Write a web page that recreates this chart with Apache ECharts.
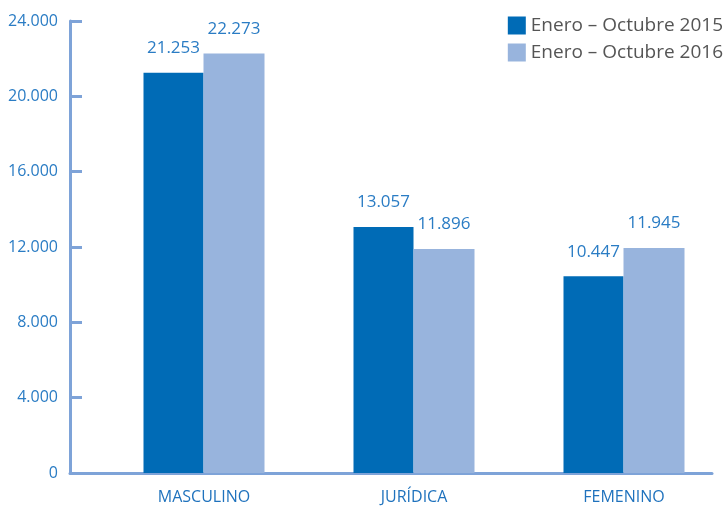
<!DOCTYPE html>
<html><head><meta charset="utf-8">
<script src="https://cdn.jsdelivr.net/npm/echarts@6/dist/echarts.min.js"></script>
<style>html,body{margin:0;padding:0;background:#fff;overflow:hidden}#c{width:729px;height:508px}</style>
</head><body><div id="c"></div>
<script>
const categories = ['MASCULINO', 'JURÍDICA', 'FEMENINO'];
const series2015 = [21253, 13057, 10447];
const series2016 = [22273, 11896, 11945];
const seriesNames = ['Enero – Octubre 2015', 'Enero – Octubre 2016'];
const yMin = 0, yMax = 24000, yStep = 4000;

function fmt(v) { return String(Math.round(v)).replace(/\B(?=(\d{3})+(?!\d))/g, '.'); }

const FONT = '"Open Sans", sans-serif';
const AXIS = '#7ea3d8';
const BLUE_TXT = '#2a7cc4';
const chart = echarts.init(document.getElementById('c'), null, {renderer: 'canvas'});
chart.setOption({
  animation: false,
  textStyle: {fontFamily: FONT},
  legend: {
    orient: 'vertical', right: 1, top: 11, itemWidth: 18, itemHeight: 18, itemGap: 8,
    icon: 'rect',
    textStyle: {color: '#555', fontSize: 19, fontFamily: FONT},
    data: seriesNames
  },
  grid: [
    {left: 99, right: 0, top: 21, bottom: 35},
    {left: 70, right: 17, top: 21, bottom: 35}
  ],
  xAxis: [
    {type: 'category', gridIndex: 0, data: categories,
     axisLine: {show: false}, axisTick: {show: false},
     axisLabel: {color: '#1f72bd', fontSize: 16, margin: 16, fontFamily: FONT}},
    {type: 'value', gridIndex: 1, min: 0, max: 1,
     axisLine: {show: true, lineStyle: {color: AXIS, width: 3}},
     axisTick: {show: false}, axisLabel: {show: false}, splitLine: {show: false}}
  ],
  yAxis: [
    {type: 'value', gridIndex: 0, min: yMin, max: yMax, interval: yStep, show: false},
    {type: 'value', gridIndex: 1, min: yMin, max: yMax, interval: yStep,
     axisLine: {show: true, lineStyle: {color: AXIS, width: 3}},
     axisTick: {show: true, inside: true, length: 12, lineStyle: {color: AXIS, width: 3}},
     axisLabel: {color: BLUE_TXT, fontSize: 16, margin: 12, formatter: fmt, fontFamily: FONT},
     splitLine: {show: false}}
  ],
  series: [
    {name: seriesNames[0], type: 'bar', xAxisIndex: 0, yAxisIndex: 0, data: series2015,
     barWidth: 60, barGap: '0%', itemStyle: {color: '#006bb6'},
     label: {show: true, position: 'top', distance: 16, color: BLUE_TXT, fontSize: 17,
             fontFamily: FONT, formatter: p => fmt(p.value)}},
    {name: seriesNames[1], type: 'bar', xAxisIndex: 0, yAxisIndex: 0, data: series2016,
     barWidth: 61, barGap: '0%', itemStyle: {color: '#98b4dd'},
     label: {show: true, position: 'top', distance: 16, color: BLUE_TXT, fontSize: 17,
             fontFamily: FONT, formatter: p => fmt(p.value)}}
  ]
});
</script></body></html>
